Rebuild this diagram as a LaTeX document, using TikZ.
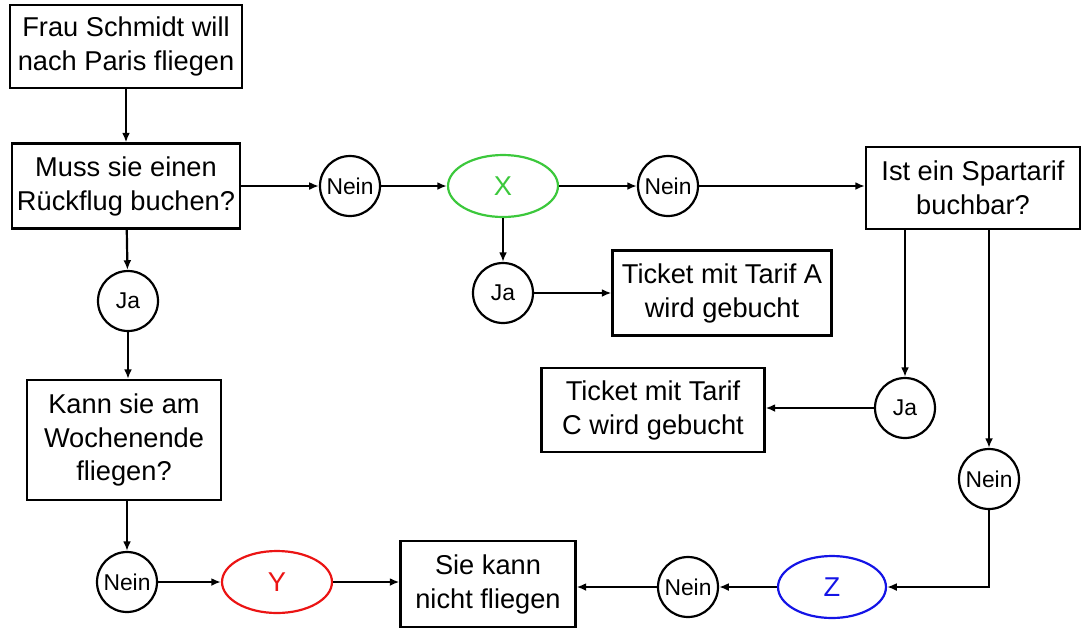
\documentclass[tikz,border=0pt]{standalone}
\usepackage{fontspec}
\setmainfont{Liberation Sans}
\usepackage{xcolor}
\usepackage{tikz}
\usetikzlibrary{shapes.geometric, arrows.meta, positioning, calc}

\definecolor{xgreen}{RGB}{60,200,60}
\definecolor{yred}{RGB}{235,20,20}
\definecolor{zblue}{RGB}{20,20,230}

\begin{document}
\begin{tikzpicture}[
        x=0.02cm, y=-0.02cm,
        box/.style={rectangle, draw=black, line width=1.25pt, align=center, inner sep=2pt,
            font=\fontsize{15.5}{19.3}\selectfont},
        answer/.style={circle, draw=black, line width=1.25pt, minimum size=1.2cm, inner sep=0pt,
            font=\fontsize{13}{15}\selectfont},
        placeholder/.style={ellipse, line width=1.25pt, minimum width=2.2cm, minimum height=1.24cm, inner sep=0pt,
            font=\fontsize{15.5}{18}\selectfont},
        arr/.style={line width=1.25pt, -{Latex[length=5.5pt, width=4.5pt]}}
    ]
        \useasboundingbox (0,0) rectangle (1086,633);

        % Left column
        \node[box, minimum width=4.64cm, minimum height=1.66cm] (start) at (126,46.5) {Frau Schmidt will\\nach Paris fliegen};
        \node[box, minimum width=4.56cm, minimum height=1.7cm] (rueck) at (126,186) {Muss sie einen\\Rückflug buchen?};
        \node[answer] (ja1) at (128,301) {Ja};
        \node[box, minimum width=3.88cm, minimum height=2.4cm] (wochen) at (124,440) {Kann sie am\\Wochenende\\fliegen?};
        \node[answer] (nein3) at (127,582) {Nein};

        % Top row
        \node[answer] (nein1) at (350,186) {Nein};
        \node[placeholder, draw=xgreen, text=xgreen] (X) at (503,186) {X};
        \node[answer] (nein2) at (668,186) {Nein};
        \node[box, minimum width=4.28cm, minimum height=1.64cm] (spar) at (973,188) {Ist ein Spartarif\\buchbar?};

        % Middle
        \node[answer] (ja2) at (503,293) {Ja};
        \node[box, minimum width=4.38cm, minimum height=1.7cm] (tarifA) at (722,293) {Ticket mit Tarif A\\wird gebucht};
        \node[answer] (ja3) at (905,408) {Ja};
        \node[box, minimum width=4.46cm, minimum height=1.68cm] (tarifC) at (653,410) {Ticket mit Tarif\\C wird gebucht};
        \node[answer] (nein4) at (989,479) {Nein};

        % Bottom row
        \node[placeholder, draw=yred, text=yred] (Y) at (277,582) {Y};
        \node[box, minimum width=3.5cm, minimum height=1.72cm] (nicht) at (488,584) {Sie kann\\nicht fliegen};
        \node[answer] (nein5) at (688,587) {Nein};
        \node[placeholder, draw=zblue, text=zblue, minimum width=2.16cm] (Z) at (832,587) {Z};

        % Connectors
        \draw[arr] (start) -- (rueck);
        \draw[arr] (rueck) -- (ja1);
        \draw[arr] (ja1) -- (wochen.north -| ja1);
        \draw[arr] (wochen.south -| nein3) -- (nein3);
        \draw[arr] (nein3) -- (Y);
        \draw[arr] (Y) -- (Y -| nicht.west);

        \draw[arr] (rueck) -- (nein1);
        \draw[arr] (nein1) -- (X);
        \draw[arr] (X) -- (nein2);
        \draw[arr] (nein2) -- (nein2 -| spar.west);

        \draw[arr] (X) -- (ja2);
        \draw[arr] (ja2) -- (tarifA);

        \draw[arr] (ja3 |- spar.south) -- (ja3);
        \draw[arr] (ja3) -- (ja3 -| tarifC.east);
        \draw[arr] (nein4 |- spar.south) -- (nein4);
        \draw[arr] (nein4) |- (Z);
        \draw[arr] (Z) -- (nein5);
        \draw[arr] (nein5) -- (nein5 -| nicht.east);
    \end{tikzpicture}
\end{document}
